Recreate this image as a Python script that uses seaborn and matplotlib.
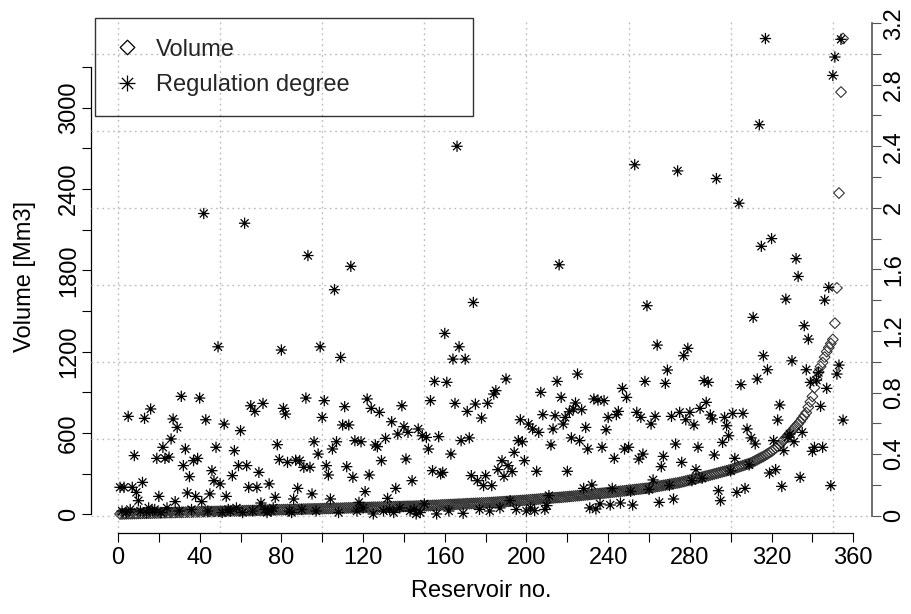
import numpy as np
import pandas as pd
import matplotlib
matplotlib.use("Agg")
import matplotlib.pyplot as plt
import seaborn as sns
from matplotlib.path import Path
from matplotlib.ticker import FixedLocator, MultipleLocator
from matplotlib.lines import Line2D

# ---------------- data ----------------
volume = [
    3, 3, 4, 4, 5, 5, 5, 6, 6, 7,
    7, 8, 8, 8, 9, 9, 10, 10, 11, 11,
    11, 12, 12, 13, 13, 13, 14, 14, 15, 15,
    15, 16, 16, 17, 17, 17, 18, 18, 19, 19,
    19, 20, 20, 20, 21, 21, 21, 22, 22, 22,
    23, 23, 24, 24, 24, 25, 25, 26, 26, 26,
    27, 27, 28, 28, 28, 29, 29, 30, 30, 30,
    31, 31, 32, 32, 32, 33, 33, 34, 34, 34,
    35, 35, 36, 36, 36, 37, 37, 38, 38, 38,
    39, 39, 40, 40, 40, 41, 41, 41, 42, 42,
    43, 43, 43, 44, 44, 45, 45, 45, 46, 46,
    47, 47, 48, 48, 48, 49, 49, 50, 50, 51,
    51, 51, 52, 52, 53, 53, 53, 54, 54, 55,
    55, 56, 56, 56, 57, 57, 58, 58, 58, 59,
    59, 60, 60, 60, 61, 61, 62, 62, 62, 63,
    64, 64, 65, 66, 67, 67, 68, 69, 70, 70,
    71, 72, 73, 73, 74, 75, 76, 76, 77, 78,
    79, 79, 80, 81, 82, 82, 83, 84, 84, 85,
    86, 87, 88, 89, 90, 91, 92, 93, 94, 95,
    96, 97, 98, 99, 100, 101, 102, 103, 104, 105,
    106, 108, 109, 110, 111, 113, 114, 115, 116, 118,
    119, 120, 121, 123, 124, 125, 126, 128, 129, 130,
    132, 133, 135, 136, 138, 139, 141, 142, 144, 145,
    147, 148, 150, 151, 153, 154, 156, 157, 159, 160,
    162, 164, 165, 167, 169, 171, 172, 174, 176, 178,
    179, 181, 183, 185, 186, 188, 190, 192, 193, 195,
    198, 200, 203, 206, 208, 211, 214, 216, 219, 222,
    224, 227, 230, 232, 235,
    239, 242, 246, 250, 253, 257, 261, 264, 268, 272,
    275, 279, 283, 286, 290,
    294, 298, 302, 306, 310, 314, 318, 322, 326, 330,
    335, 340, 345, 350, 355, 360, 365, 370, 375, 380,
    388, 396, 404, 412, 420, 427,
    437, 446, 456, 465,
    477, 490, 502, 515,
    532, 549, 566, 583, 600,
    617, 634, 651, 668, 685,
    707, 728, 750,
    790, 830, 870,
    935, 1000, 1050, 1090, 1120, 1160, 1200, 1230, 1260, 1290,
    1410, 1670, 2370, 3115, 3510,
]

reg_degree = [
    0.184, 0.03, 0.184, 0.02, 0.645, 0.04, 0.184, 0.39, 0.151, 0.097,
    0.03, 0.216, 0.632, 0.02, 0.05, 0.693, 0.03, 0.04, 0.372, 0.125,
    0.02, 0.444, 0.372, 0.05, 0.38, 0.498, 0.628, 0.091, 0.573, 0.03,
    0.775, 0.325, 0.433, 0.147, 0.253, 0.04, 0.357, 0.125, 0.372, 0.764,
    0.091, 1.963, 0.623, 0.03, 0.141, 0.292, 0.227, 0.444, 1.097, 0.206,
    0.02, 0.595, 0.125, 0.04, 0.03, 0.26, 0.422, 0.05, 0.325, 0.552,
    0.02, 1.90, 0.325, 0.184, 0.714, 0.03, 0.677, 0.184, 0.281, 0.082,
    0.729, 0.04, 0.02, 0.206, 0.03, 0.05, 0.119, 0.461, 0.364, 1.076,
    0.697, 0.66, 0.346, 0.03, 0.02, 0.108, 0.36, 0.177, 0.357, 0.04,
    0.314, 0.764, 1.69, 0.314, 0.141, 0.48, 0.03, 0.40, 1.097, 0.638,
    0.747, 0.325, 0.264, 0.108, 0.433, 1.468, 0.48, 0.02, 1.028, 0.589,
    0.708, 0.318, 0.589, 1.62, 0.249, 0.487, 0.03, 0.086, 0.48, 0.05,
    0.156, 0.758, 0.264, 0.697, 0.011, 0.459, 0.448, 0.671, 0.357, 0.03,
    0.502, 0.112, 0.04, 0.61, 0.02, 0.177, 0.53, 0.05, 0.714, 0.578,
    0.368, 0.541, 0.03, 0.227, 0.04, 0.011, 0.563, 0.02, 0.519, 0.076,
    0.508, 0.433, 0.747, 0.292, 0.872, 0.011, 0.513, 0.271, 0.281, 1.184,
    0.866, 0.03, 0.40, 1.017, 0.729, 2.40, 1.097, 0.487, 0.015, 1.017,
    0.677, 0.505, 0.26, 1.385, 0.725, 0.227, 0.04, 0.634, 0.195, 0.26,
    0.73, 0.03, 0.195, 0.79, 0.812, 0.299, 0.05, 0.357, 0.255, 0.888,
    0.325, 0.097, 0.286, 0.411, 0.04, 0.487, 0.623, 0.48, 0.357, 0.03,
    0.595, 0.05, 0.563, 0.032, 0.288, 0.541, 0.801, 0.656, 0.04, 0.065,
    0.13, 0.459, 0.563, 0.649, 0.872, 1.63, 0.768, 0.595, 0.638, 0.288,
    0.675, 0.505, 0.693, 0.732, 0.92, 0.487, 0.688, 0.177, 0.573, 0.433,
    0.05, 0.199, 0.758, 0.043, 0.751, 0.076, 0.444, 0.747, 0.558, 0.638,
    0.069, 0.177, 0.372, 0.656, 0.677, 0.082, 0.827, 0.433, 0.768, 0.444,
    0.158, 0.069, 2.28, 0.671, 0.368, 0.638, 0.40, 0.872, 1.364, 0.17,
    0.595, 0.232, 0.645, 1.108, 0.086, 0.318, 0.385, 0.859, 0.946, 0.196,
    0.645, 0.108, 0.465, 2.24, 0.671, 0.346, 1.039, 0.623, 1.087, 0.671,
    0.227, 0.589, 0.299, 0.444, 0.697, 0.243, 0.877, 0.736, 0.866, 0.654,
    0.628, 0.394, 2.19, 0.162, 0.097, 0.476, 0.638, 0.584, 0.519, 0.29,
    0.664, 0.372, 0.151, 2.03, 0.851, 0.664, 0.177, 0.563, 0.33, 0.505,
    1.288, 0.466, 0.888, 2.54, 1.75, 1.039, 3.10, 0.948, 0.277, 1.80,
    0.487, 0.299, 0.621, 0.719, 0.19, 0.422, 1.407, 0.51, 0.53, 1.006,
    0.48, 1.67, 1.554, 0.249, 0.541, 1.234, 0.948, 1.147, 0.866, 0.418,
    0.444, 0.88, 0.93, 0.71, 0.444, 1.40, 0.827, 1.483, 0.195, 2.86,
    2.98, 0.92, 0.978, 3.095, 0.621,
]

x_ticks = [0, 20, 40, 60, 80, 100, 120, 140, 160, 180, 200, 220, 240, 260, 280, 300, 320, 340, 360]
x_tick_labels = ["0", "", "40", "", "80", "", "120", "", "160", "", "200", "", "240", "", "280", "", "320", "", "360"]
vol_ticks = [0, 300, 600, 900, 1200, 1500, 1800, 2100, 2400, 2700, 3000, 3300]
vol_tick_labels = ["0", "", "600", "", "1200", "", "1800", "", "2400", "", "3000", ""]
reg_ticks = [0, 0.2, 0.4, 0.6, 0.8, 1.0, 1.2, 1.4, 1.6, 1.8, 2.0, 2.2, 2.4, 2.6, 2.8, 3.0, 3.2]
reg_tick_labels = ["0", "", "0.4", "", "0.8", "", "1.2", "", "1.6", "", "2", "", "2.4", "", "2.8", "", "3.2"]

# ---------------- style ----------------
sns.set_theme(style="white")
plt.rcParams["font.family"] = ["Liberation Sans", "DejaVu Sans"]
FS = 17

fig = plt.figure(figsize=(9.12, 6.14), dpi=100)
ax = fig.add_axes([0.0998, 0.1320, 0.8564, 0.8362])
ax2 = ax.twinx()

diamond = Path([(-1, 0), (0, 1), (1, 0), (0, -1), (-1, 0)],
               [Path.MOVETO, Path.LINETO, Path.LINETO, Path.LINETO, Path.CLOSEPOLY])
d = 0.7071
star = Path([(-1, 0), (1, 0), (0, -1), (0, 1), (-d, -d), (d, d), (-d, d), (d, -d)],
            [Path.MOVETO, Path.LINETO] * 4)

df_v = pd.DataFrame({"Reservoir no.": np.arange(1, len(volume) + 1), "Volume": volume})
df_r = pd.DataFrame({"Reservoir no.": np.arange(1, len(reg_degree) + 1),
                     "Regulation degree": reg_degree})

sns.scatterplot(data=df_v, x="Reservoir no.", y="Volume", ax=ax, marker=diamond,
                s=60, facecolor="none", edgecolor="#333333", linewidth=0.8, legend=False)
coll_v = ax.collections[-1]
coll_v.set_facecolor("none")
coll_v.set_edgecolor("#333333")

sns.scatterplot(data=df_r, x="Reservoir no.", y="Regulation degree", ax=ax2, marker=star,
                s=66, facecolor="none", edgecolor="black", linewidth=0.9, legend=False, zorder=3)
coll_r = ax2.collections[-1]
coll_r.set_facecolor("none")
coll_r.set_edgecolor("black")

# limits (R style 4% extension)
ax.set_xlim(-13.2, 369.2)
ax.set_ylim(-137, 3650)
ax2.set_ylim(-0.1126, 3.2236)

# ticks
ax.xaxis.set_major_locator(FixedLocator(x_ticks))
ax.set_xticklabels(x_tick_labels)
ax.yaxis.set_major_locator(FixedLocator(vol_ticks))
ax.set_yticklabels(vol_tick_labels)
ax2.yaxis.set_major_locator(FixedLocator(reg_ticks))
ax2.set_yticklabels(reg_tick_labels)

ax.tick_params(axis="x", which="major", bottom=True, direction="out", length=6.5, width=0.8,
               color="black", labelsize=FS, pad=3.5, labelcolor="black")
ax.tick_params(axis="y", which="major", left=True, direction="out", length=6.5, width=0.8,
               color="black", labelsize=FS, pad=1.5, labelrotation=90, labelcolor="black")
ax2.tick_params(axis="y", which="major", right=True, direction="out", length=6.5, width=0.8,
                color="#555555", labelsize=FS, pad=1.5, labelrotation=90, labelcolor="black")
for lab in ax.get_yticklabels():
    lab.set_va("center")
for lab in ax2.get_yticklabels():
    lab.set_va("center")

# dotted grid: x every 50, regulation degree every 0.5
ax.xaxis.set_minor_locator(MultipleLocator(50))
ax.xaxis.remove_overlapping_locs = False
ax2.yaxis.set_minor_locator(MultipleLocator(0.5))
ax2.yaxis.remove_overlapping_locs = False
ax.tick_params(which="minor", length=0)
ax2.tick_params(which="minor", length=0)
grid_kw = dict(color="#bdbdbd", linestyle=(0, (1.3, 2.6)), linewidth=1.0)
ax.grid(False)
ax2.grid(False)
ax.grid(True, which="minor", axis="x", **grid_kw)
ax2.grid(True, which="minor", axis="y", **grid_kw)
ax.set_axisbelow(True)

# spines (R-like axes drawn from first to last tick)
for s in ["top", "right"]:
    ax.spines[s].set_visible(False)
for s in ["top", "left", "bottom"]:
    ax2.spines[s].set_visible(False)
ax.spines["left"].set_bounds(0, 3300)
ax.spines["bottom"].set_bounds(0, 360)
ax2.spines["right"].set_bounds(0, 3.2)
for sp in [ax.spines["left"], ax.spines["bottom"]]:
    sp.set_color("black")
    sp.set_linewidth(0.9)
ax2.spines["right"].set_color("#555555")
ax2.spines["right"].set_linewidth(1.2)

ax.set_xlabel("Reservoir no.", fontsize=FS, color="black", labelpad=8)
ax.set_ylabel("Volume [Mm3]", fontsize=FS, color="black", labelpad=16)
ax2.set_ylabel("")

# legend
handles = [
    Line2D([], [], linestyle="none", marker=diamond, markersize=10.5, markerfacecolor="none",
           markeredgecolor="black", markeredgewidth=0.9),
    Line2D([], [], linestyle="none", marker=star, markersize=11.5, markerfacecolor="none",
           markeredgecolor="black", markeredgewidth=0.9),
]
leg = ax2.legend(handles, ["Volume", "Regulation degree"], loc="upper left",
                 bbox_to_anchor=(0.005, 1.002, 0.484, 0.0), mode="expand", borderaxespad=0,
                 fontsize=FS, frameon=True, fancybox=False, borderpad=0.85, labelspacing=0.56,
                 handlelength=1.0, handletextpad=0.72)
frame = leg.get_frame()
frame.set_facecolor("none")
frame.set_edgecolor("black")
frame.set_linewidth(1.0)

fig.savefig("out.png", dpi=100)
